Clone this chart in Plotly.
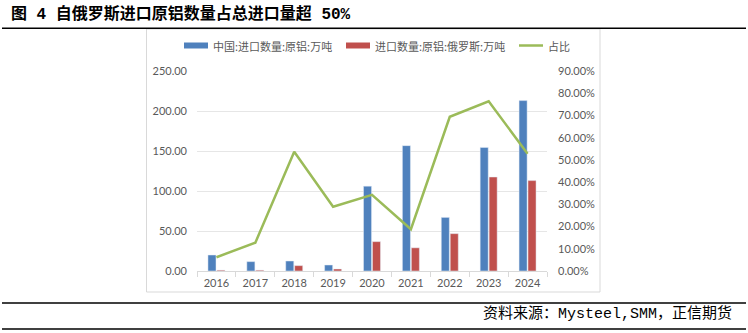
import plotly.graph_objects as go

years = ["2016", "2017", "2018", "2019", "2020", "2021", "2022", "2023", "2024"]
china_import = [20.0, 11.7, 12.5, 7.5, 106.0, 156.7, 67.0, 154.5, 213.0]
russia_import = [1.0, 1.0, 6.7, 2.5, 36.7, 29.0, 46.7, 117.5, 113.0]
share = [0.062, 0.1275, 0.537, 0.289, 0.343, 0.188, 0.694, 0.764, 0.528]

name_cn = "中国:进口数量:原铝:万吨"
name_ru = "进口数量:原铝:俄罗斯:万吨"
name_share = "占比"
title_text = "图 4 自俄罗斯进口原铝数量占总进口量超 50%"
source_text = "资料来源：Mysteel,SMM，正信期货"

BLUE = "#4f81bd"
RED = "#c0504d"
GREEN = "#9bbb59"
GRAY_TXT = "#595959"

W, H = 748, 333
L, R, T, B = 197, 547, 71, 271


def px(x):
    return (x - L) / (R - L)


def py(y):
    return (B - y) / (B - T)


fig = go.Figure()
fig.add_trace(go.Bar(x=years, y=china_import, name=name_cn, marker_color=BLUE,
                     showlegend=False, yaxis="y"))
fig.add_trace(go.Bar(x=years, y=russia_import, name=name_ru, marker_color=RED,
                     showlegend=False, yaxis="y"))
fig.add_trace(go.Scatter(x=years, y=share, name=name_share, mode="lines",
                         line=dict(color=GREEN, width=2.5), yaxis="y2",
                         showlegend=False))

shapes = []
annotations = []

# chart frame box
shapes.append(dict(type="rect", xref="paper", yref="paper",
                   x0=px(146.5), x1=px(600), y0=py(292), y1=py(29),
                   line=dict(color="#d9d9d9", width=1), fillcolor="rgba(0,0,0,0)",
                   layer="below"))
# black rules
for yy in (28.3, 303, 329):
    shapes.append(dict(type="line", xref="paper", yref="paper",
                       x0=px(2), x1=px(746), y0=py(yy), y1=py(yy),
                       line=dict(color="black", width=1.6)))

# manual legend
leg_y = 45.5
items = [(184, 208, BLUE, name_cn), (346, 370, RED, name_ru), (519, 543, GREEN, name_share)]
for x0, x1, col, txt in items:
    shapes.append(dict(type="line", xref="paper", yref="paper",
                       x0=px(x0), x1=px(x1), y0=py(leg_y), y1=py(leg_y),
                       line=dict(color=col, width=6 if col != GREEN else 2.5)))
    annotations.append(dict(xref="paper", yref="paper", x=px(x1 + 3), y=py(leg_y),
                            xanchor="left", yanchor="middle", showarrow=False,
                            text=txt, font=dict(family="Noto Sans CJK SC", size=11,
                                                color=GRAY_TXT)))

annotations.append(dict(xref="paper", yref="paper", x=px(9), y=py(14),
                        xanchor="left", yanchor="middle", showarrow=False,
                        text="<b>" + title_text + "</b>",
                        font=dict(family="Liberation Mono, Noto Sans CJK SC", size=16,
                                  color="black")))
annotations.append(dict(xref="paper", yref="paper", x=px(734), y=py(314),
                        xanchor="right", yanchor="middle", showarrow=False,
                        text=source_text,
                        font=dict(family="Liberation Mono, Noto Sans CJK SC", size=15,
                                  color="black")))

tickfont = dict(family="Lato", size=11, color=GRAY_TXT)

fig.update_layout(
    width=W, height=H,
    margin=dict(l=L, r=W - R, t=T, b=H - B, pad=0),
    paper_bgcolor="white", plot_bgcolor="white",
    barmode="group", bargap=0.54, bargroupgap=0.1,
    showlegend=False,
    shapes=shapes, annotations=annotations,
    xaxis=dict(type="category", tickfont=tickfont, showgrid=False,
               showline=True, linecolor="#d9d9d9", linewidth=1,
               ticks="outside", tickson="boundaries", ticklen=5, tickcolor="#d9d9d9",
               ticklabelstandoff=2),
    yaxis=dict(range=[0, 250], tickvals=[0, 50, 100, 150, 200, 250],
               tickformat=".2f", tickfont=tickfont, showgrid=True,
               gridcolor="#e6e6e6", gridwidth=1, zeroline=False,
               showline=False, ticks="", ticklabelstandoff=9),
    yaxis2=dict(range=[0, 0.9], tickvals=[i / 10 for i in range(10)],
                tickformat=".2%", tickfont=tickfont, overlaying="y", side="right",
                showgrid=False, zeroline=False, showline=False, ticks="",
                ticklabelstandoff=10),
)

fig.write_html("out.html")
